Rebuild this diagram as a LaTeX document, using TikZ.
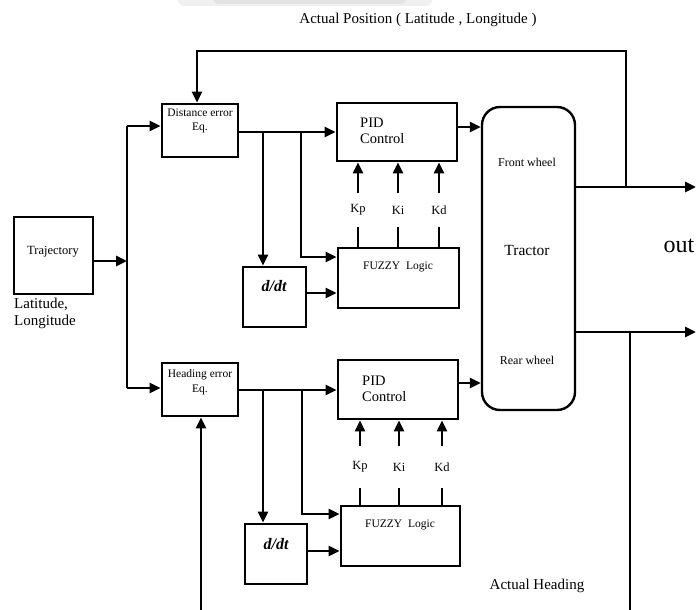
\documentclass[tikz,border=0pt]{standalone}
\usepackage{fontspec}
\setmainfont{Liberation Serif}
\usetikzlibrary{arrows.meta}
\begin{document}
\begin{tikzpicture}[x=1pt,y=-1pt,
  box/.style={draw,line width=2.8pt,inner sep=0pt},
  ln/.style={line width=2.7pt},
  arr/.style={line width=2.7pt,-{Triangle[length=11pt,width=10pt]}},
  small/.style={font=\fontsize{11.5}{14}\selectfont,inner sep=0pt,align=center},
  mid/.style={font=\fontsize{14.5}{16}\selectfont,inner sep=0pt},
  big/.style={font=\fontsize{15}{17}\selectfont,inner sep=0pt},
  gain/.style={font=\fontsize{12.5}{13}\selectfont,inner sep=0pt,minimum height=#1},
  ddt/.style={font=\fontsize{16}{17}\selectfont\bfseries\itshape,inner sep=0pt}]
\useasboundingbox (0,0) rectangle (696,610);
% faint tab at the top edge
\fill[gray!12,rounded corners=6pt] (178,-8) rectangle (432,6);
\fill[gray!22,rounded corners=5pt] (213,-8) rectangle (406,4);

% blocks
\node[box,minimum width=79pt,minimum height=77pt] (traj) at (53.5,255.5) {};
\node[small,font=\fontsize{12.5}{14}\selectfont] (trajt) at (53,252) {Trajectory};
\node[big,align=left,anchor=west] (latlon) at (14,313) {Latitude,\\Longitude};

\node[box,minimum width=76pt,minimum height=53pt] (dist) at (200,130.5) {};
\node[small] (distt) at (200,121) {Distance error\\Eq.};
\node[box,minimum width=76pt,minimum height=53pt] (head) at (200,389.5) {};
\node[small,font=\fontsize{11.5}{15}\selectfont] (headt) at (200,382.5) {Heading error\\Eq.};

\node[box,minimum width=120pt,minimum height=58pt] (pid1) at (397,132) {};
\node[mid,align=left,anchor=west] (pid1t) at (360,131) {PID\\Control};
\node[box,minimum width=120pt,minimum height=59pt] (pid2) at (398,389.5) {};
\node[mid,align=left,anchor=west] (pid2t) at (362,388.5) {PID\\Control};

\node[box,minimum width=121pt,minimum height=60pt] (fuz1) at (398.5,278) {};
\node[small] (fuz1t) at (398,267) {FUZZY\hspace{3pt} Logic};
\node[box,minimum width=119pt,minimum height=60pt] (fuz2) at (400.5,536) {};
\node[small] (fuz2t) at (400,525) {FUZZY\hspace{3pt} Logic};

\node[box,minimum width=63pt,minimum height=60pt] (dd1) at (274.5,297) {};
\node[ddt] (dd1t) at (274,286) {d/dt};
\node[box,minimum width=62pt,minimum height=60pt] (dd2) at (276,554) {};
\node[ddt] (dd2t) at (276,544) {d/dt};

\node[draw,line width=2.4pt,rounded corners=18pt,minimum width=93pt,minimum height=303pt] (tractor) at (528.5,258.5) {};
\node[small,font=\fontsize{12}{14}\selectfont] (front) at (527,162) {Front wheel};
\node[big,font=\fontsize{15.5}{17}\selectfont] (tract) at (527,250) {Tractor};
\node[small,font=\fontsize{12}{14}\selectfont] (rear) at (527,360) {Rear wheel};

% gain labels
\node[gain=34pt] (kp1) at (358,210) {Kp};
\node[gain=34pt] (ki1) at (398,210) {Ki};
\node[gain=34pt] (kd1) at (439,210) {Kd};
\node[gain=42pt] (kp2) at (360,467) {Kp};
\node[gain=42pt] (ki2) at (399,467) {Ki};
\node[gain=42pt] (kd2) at (442,467) {Kd};

% free texts
\node[big] (title) at (418,20) {Actual Position ( Latitude , Longitude )};
\node[big] (acthead) at (537,586) {Actual Heading};
\node[font=\fontsize{24}{26}\selectfont,inner sep=0pt] (out) at (679,246) {out};

% junction points
\coordinate (jn) at (127,261);
\coordinate (jtop) at (127,126);
\coordinate (jbot) at (127,388);
\coordinate (b1) at (263,132);
\coordinate (c1) at (301,132);
\coordinate (b2) at (263,390);
\coordinate (c2) at (302,390);
\coordinate (o1) at (696,187);
\coordinate (o2) at (696,332);
\coordinate (fb1) at (626,187);
\coordinate (fb2) at (630,332);
\coordinate (tl) at (197,51);
\coordinate (bl) at (201,612);
\coordinate (br) at (630,612);

% trajectory feed
\draw[arr] (traj.east |- jn) -- (jn);
\draw[ln] (jtop) -- (jbot);
\draw[arr] (jtop) -- (jtop -| dist.west);
\draw[arr] (jbot) -- (jbot -| head.west);

% distance branch
\draw[arr] (dist.east |- b1) -- (pid1.west |- b1);
\draw[arr] (b1) -- (b1 |- dd1.north);
\draw[arr] (c1) |- (fuz1.west |- 0,257);
\draw[arr] (dd1.east |- 0,293) -- (fuz1.west |- 0,293);

% heading branch
\draw[arr] (head.east |- b2) -- (pid2.west |- b2);
\draw[arr] (b2) -- (b2 |- dd2.north);
\draw[arr] (c2) |- (fuz2.west |- 0,514);
\draw[arr] (dd2.east |- 0,551) -- (fuz2.west |- 0,551);

% gains from fuzzy logic to PID
\foreach \g in {kp1,ki1,kd1}{
  \draw[ln] (\g.south |- fuz1.north) -- (\g.south);
  \draw[arr] (\g.north) -- (\g.north |- pid1.south);
}
\foreach \g in {kp2,ki2,kd2}{
  \draw[ln] (\g.south |- fuz2.north) -- (\g.south);
  \draw[arr] (\g.north) -- (\g.north |- pid2.south);
}

% PID to tractor
\draw[arr] (pid1.east |- 0,127) -- (tractor.west |- 0,127);
\draw[arr] (pid2.east |- 0,383) -- (tractor.west |- 0,383);

% outputs and feedback loops
\draw[arr] (tractor.east |- o1) -- (o1);
\draw[arr] (tractor.east |- o2) -- (o2);
\draw[arr] (fb1) |- (tl) -- (tl |- dist.north);
\draw[ln] (fb2) -- (br);
\draw[arr] (bl) -- (bl |- head.south);
\end{tikzpicture}
\end{document}
